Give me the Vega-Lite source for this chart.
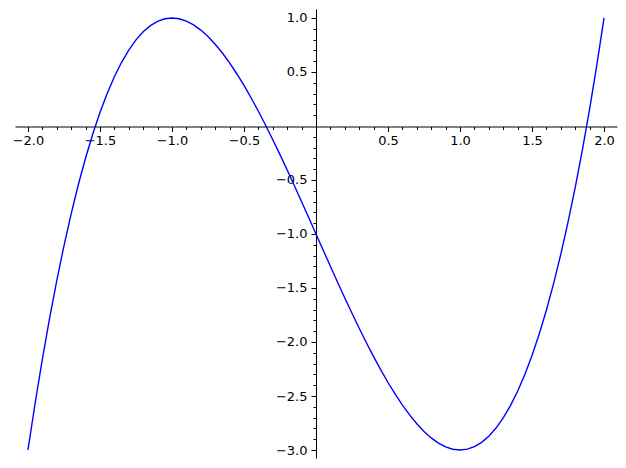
{
  "$schema": "https://vega.github.io/schema/vega-lite/v6.json",
  "width": 602,
  "height": 449,
  "autosize": {"type": "none"},
  "padding": {"left": 15, "top": 9, "right": 9, "bottom": 10},
  "background": "white",
  "config": {
    "view": {"stroke": null},
    "axis": {
      "grid": false,
      "title": null,
      "domainColor": "black",
      "domainWidth": 1,
      "tickColor": "black",
      "tickWidth": 1,
      "labelColor": "black",
      "labelFont": "DejaVu Sans",
      "labelFontSize": 13,
      "labelFlush": false,
      "labelOverlap": false,
      "labelBound": false
    }
  },
  "data": {
    "values": [
      {"x": -2.0, "y": -3.0}, {"x": -1.95, "y": -2.564875}, {"x": -1.9, "y": -2.159}, {"x": -1.85, "y": -1.781625},
      {"x": -1.8, "y": -1.432}, {"x": -1.75, "y": -1.109375}, {"x": -1.7, "y": -0.813}, {"x": -1.65, "y": -0.542125},
      {"x": -1.6, "y": -0.296}, {"x": -1.55, "y": -0.073875}, {"x": -1.5, "y": 0.125}, {"x": -1.45, "y": 0.301375},
      {"x": -1.4, "y": 0.456}, {"x": -1.35, "y": 0.589625}, {"x": -1.3, "y": 0.703}, {"x": -1.25, "y": 0.796875},
      {"x": -1.2, "y": 0.872}, {"x": -1.15, "y": 0.929125}, {"x": -1.1, "y": 0.969}, {"x": -1.05, "y": 0.992375},
      {"x": -1.0, "y": 1.0}, {"x": -0.95, "y": 0.992625}, {"x": -0.9, "y": 0.971}, {"x": -0.85, "y": 0.935875},
      {"x": -0.8, "y": 0.888}, {"x": -0.75, "y": 0.828125}, {"x": -0.7, "y": 0.757}, {"x": -0.65, "y": 0.675375},
      {"x": -0.6, "y": 0.584}, {"x": -0.55, "y": 0.483625}, {"x": -0.5, "y": 0.375}, {"x": -0.45, "y": 0.258875},
      {"x": -0.4, "y": 0.136}, {"x": -0.35, "y": 0.007125}, {"x": -0.3, "y": -0.127}, {"x": -0.25, "y": -0.265625},
      {"x": -0.2, "y": -0.408}, {"x": -0.15, "y": -0.553375}, {"x": -0.1, "y": -0.701}, {"x": -0.05, "y": -0.850125},
      {"x": 0.0, "y": -1.0}, {"x": 0.05, "y": -1.149875}, {"x": 0.1, "y": -1.299}, {"x": 0.15, "y": -1.446625},
      {"x": 0.2, "y": -1.592}, {"x": 0.25, "y": -1.734375}, {"x": 0.3, "y": -1.873}, {"x": 0.35, "y": -2.007125},
      {"x": 0.4, "y": -2.136}, {"x": 0.45, "y": -2.258875}, {"x": 0.5, "y": -2.375}, {"x": 0.55, "y": -2.483625},
      {"x": 0.6, "y": -2.584}, {"x": 0.65, "y": -2.675375}, {"x": 0.7, "y": -2.757}, {"x": 0.75, "y": -2.828125},
      {"x": 0.8, "y": -2.888}, {"x": 0.85, "y": -2.935875}, {"x": 0.9, "y": -2.971}, {"x": 0.95, "y": -2.992625},
      {"x": 1.0, "y": -3.0}, {"x": 1.05, "y": -2.992375}, {"x": 1.1, "y": -2.969}, {"x": 1.15, "y": -2.929125},
      {"x": 1.2, "y": -2.872}, {"x": 1.25, "y": -2.796875}, {"x": 1.3, "y": -2.703}, {"x": 1.35, "y": -2.589625},
      {"x": 1.4, "y": -2.456}, {"x": 1.45, "y": -2.301375}, {"x": 1.5, "y": -2.125}, {"x": 1.55, "y": -1.926125},
      {"x": 1.6, "y": -1.704}, {"x": 1.65, "y": -1.457875}, {"x": 1.7, "y": -1.187}, {"x": 1.75, "y": -0.890625},
      {"x": 1.8, "y": -0.568}, {"x": 1.85, "y": -0.218375}, {"x": 1.9, "y": 0.159}, {"x": 1.95, "y": 0.564875},
      {"x": 2.0, "y": 1.0}
    ]
  },
  "resolve": {"axis": {"x": "independent", "y": "independent"}},
  "layer": [
    {
      "mark": {"type": "line", "color": "#0000ff", "strokeWidth": 1.4, "clip": false},
      "encoding": {
        "x": {
          "field": "x", "type": "quantitative",
          "scale": {"domain": [-2.09, 2.09], "nice": false, "zero": false},
          "axis": {
            "orient": "bottom",
            "offset": -331.5,
            "values": [-2, -1.5, -1, -0.5, 0.5, 1, 1.5, 2],
            "format": ".1f",
            "tickSize": 5,
            "labelPadding": 3,
            "domain": true
          }
        },
        "y": {
          "field": "y", "type": "quantitative",
          "scale": {"domain": [-3.074, 1.083], "nice": false, "zero": false},
          "axis": {
            "orient": "left",
            "offset": -301,
            "values": [1, 0.5, -0.5, -1, -1.5, -2, -2.5, -3],
            "format": ".1f",
            "tickSize": 5,
            "labelPadding": 4,
            "domain": true
          }
        }
      }
    },
    {
      "mark": {"type": "line", "strokeOpacity": 0},
      "encoding": {
        "x": {
          "field": "x", "type": "quantitative",
          "axis": {
            "orient": "bottom",
            "offset": -331.5,
            "values": [-1.9, -1.8, -1.7, -1.6, -1.4, -1.3, -1.2, -1.1, -0.9, -0.8, -0.7, -0.6, -0.4, -0.3, -0.2, -0.1, 0.1, 0.2, 0.3, 0.4, 0.6, 0.7, 0.8, 0.9, 1.1, 1.2, 1.3, 1.4, 1.6, 1.7, 1.8, 1.9],
            "labels": false,
            "domain": false,
            "tickSize": 3
          }
        },
        "y": {
          "field": "y", "type": "quantitative",
          "axis": {
            "orient": "left",
            "offset": -301,
            "values": [0.9, 0.8, 0.7, 0.6, 0.4, 0.3, 0.2, 0.1, -0.1, -0.2, -0.3, -0.4, -0.6, -0.7, -0.8, -0.9, -1.1, -1.2, -1.3, -1.4, -1.6, -1.7, -1.8, -1.9, -2.1, -2.2, -2.3, -2.4, -2.6, -2.7, -2.8, -2.9],
            "labels": false,
            "domain": false,
            "tickSize": 3
          }
        }
      }
    }
  ]
}
